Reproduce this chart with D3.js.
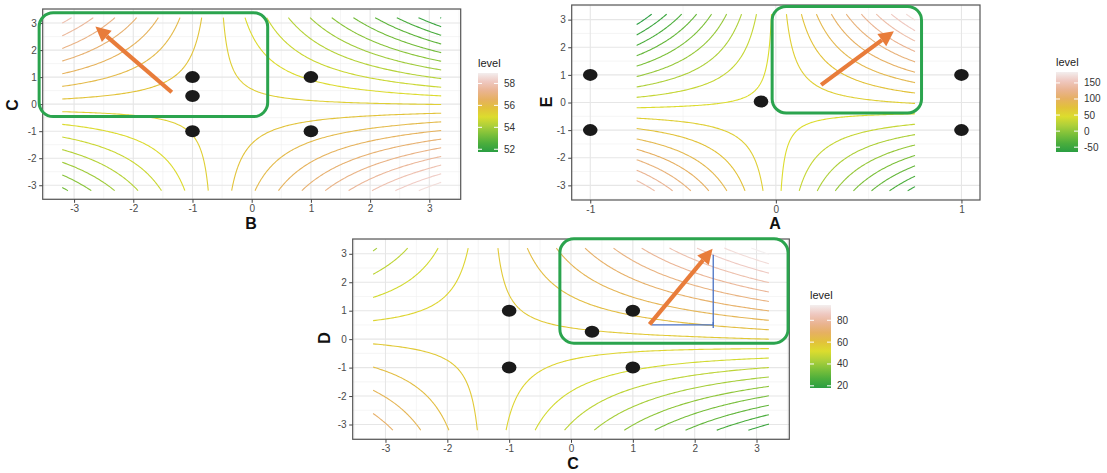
<!DOCTYPE html>
<html lang="en">
<head>
<meta charset="UTF-8">
<title>Response surface contours</title>
<script src="https://d3js.org/d3.v7.min.js"></script>
<style>
  body { margin: 0; background: #fff; }
  text { font-family: "Liberation Sans", Arial, sans-serif; }
</style>
</head>
<body>
<svg id="chart" width="1107" height="473"></svg>
<script>
// DATA =======================================================================================
// fitted surface coefficients: level = b0 + bX*x + bY*y + bXY*x*y + bXX*x^2 + bYY*y^2
const bcCoef = [55.449, -0.036, -0.178, -0.296, 0, 0];
const aeCoef = [49.7, 14.7, 0, 49, 0, 0];
const cdCoef = [56.58, 0.13, 3.58, 2.65, 0.1, 0];

// contour levels
const bcLevels = [51.75, 52.11, 52.47, 52.83, 53.19, 53.55, 53.91, 54.27, 54.63, 54.99, 55.35,
                  55.71, 56.07, 56.43, 56.79, 57.15, 57.51, 57.87, 58.23, 58.59, 58.95];
const aeLevels = [-65, -51.2, -37.3, -23.5, -9.7, 4.2, 18, 31.8, 45.7, 59.5, 73.3, 87.2, 101,
                  114.8, 128.7, 142.5, 156.3, 170.2, 184];
const cdLevels = [18, 22, 26, 30, 34, 38, 42, 46, 50, 54, 58, 62, 66, 70, 74, 78, 82, 86, 90, 94];

// design points
const bcPointsX = [-1, -1, -1, 1, 1];
const bcPointsY = [1, 0.3, -1, 1, -1];
const aePointsX = [-1, -1, 1, 1, -0.08];
const aePointsY = [1, -1, 1, -1, 0.04];
const cdPointsX = [-1, -1, 1, 1, 0.34];
const cdPointsY = [1, -1, 1, -1, 0.26];

// axis ticks and legend ticks
const ticks3 = [-3, -2, -1, 0, 1, 2, 3];
const minor3 = [-3.5, -2.5, -1.5, -0.5, 0.5, 1.5, 2.5, 3.5];
const ticksA = [-1, 0, 1];
const minorA = [-0.5, 0.5];
const bcLegendTicks = [52, 54, 56, 58];
const aeLegendTicks = [-50, 0, 50, 100, 150];
const cdLegendTicks = [20, 40, 60, 80];

// annotations (data units): box [x1, x2, y1, y2], arrow [xFrom, yFrom, xTo, yTo]
const bcBox = [-3.59, 0.27, -0.46, 3.38];
const bcArrow = [-1.35, 0.44, -2.64, 2.87];
const aeBox = [-0.02, 0.785, -0.38, 3.48];
const aeArrow = [0.244, 0.64, 0.636, 2.58];
const cdBox = [-0.18, 3.51, -0.14, 3.53];
const cdArrow = [1.27, 0.52, 2.29, 3.18];
const cdGuideX = [1.30, 2.30, 2.30];
const cdGuideY = [0.50, 0.50, 2.97];

// terrain-like palette, a little muted like the printed figure
const terrain = ["#2a9e42", "#4cae3c", "#7cc03a", "#aed03a", "#dcdc2e",
                 "#e2c23a", "#e6b062", "#eab492", "#efc8c0", "#f3eeee"];

// PANELS =====================================================================================
const svg = d3.select("#chart");

const panels = [
  { coef: bcCoef, levels: bcLevels, px: bcPointsX, py: bcPointsY,
    box: [42.7, 460.7, 9, 199.3], xLim: [-3.53, 3.53], yLim: [-3.52, 3.52],
    xData: [-3.2, 3.2], yData: [-3.2, 3.2],
    xTicks: ticks3, xMinor: minor3, yTicks: ticks3, yMinor: minor3,
    xTitle: "B", yTitle: "C", xTitlePos: [251, 223], yTitlePos: [12, 105],
    legend: { x: 478, top: 73, bottom: 152, w: 20, ticks: bcLegendTicks },
    annBox: bcBox, arrow: bcArrow },
  { coef: aeCoef, levels: aeLevels, px: aePointsX, py: aePointsY,
    box: [571.7, 980, 5, 200], xLim: [-1.1, 1.1], yLim: [-3.53, 3.53],
    xData: [-0.75, 0.75], yData: [-3.2, 3.2],
    xTicks: ticksA, xMinor: minorA, yTicks: ticks3, yMinor: minor3,
    xTitle: "A", yTitle: "E", xTitlePos: [775, 223], yTitlePos: [546, 102],
    legend: { x: 1056, top: 72, bottom: 152, w: 22, ticks: aeLegendTicks },
    annBox: aeBox, arrow: aeArrow },
  { coef: cdCoef, levels: cdLevels, px: cdPointsX, py: cdPointsY,
    box: [352.7, 789.3, 239, 439.3], xLim: [-3.53, 3.53], yLim: [-3.52, 3.52],
    xData: [-3.2, 3.2], yData: [-3.2, 3.2],
    xTicks: ticks3, xMinor: minor3, yTicks: ticks3, yMinor: minor3,
    xTitle: "C", yTitle: "D", xTitlePos: [573, 463], yTitlePos: [324, 338],
    legend: { x: 810, top: 305, bottom: 388, w: 21, ticks: cdLegendTicks },
    annBox: cdBox, arrow: cdArrow, guide: true }
];

// turn closed d3.contours rings into open lines (drop the parts on the grid edge)
function openLines(geom, nx, ny) {
  const out = [];
  const onEdge = p => p[0] <= 0 || p[0] >= nx || p[1] <= 0 || p[1] >= ny;
  geom.coordinates.forEach(poly => poly.forEach(ring => {
    let pts = ring.slice(0, -1);
    const k = pts.findIndex(onEdge);
    if (k < 0) { out.push(ring); return; }
    pts = pts.slice(k).concat(pts.slice(0, k), [pts[k]]);
    let cur = [];
    pts.forEach(p => {
      if (onEdge(p)) { if (cur.length > 1) out.push(cur); cur = []; }
      else cur.push(p);
    });
    if (cur.length > 1) out.push(cur);
  }));
  return out;
}

function drawPanel(p, idx) {
  const [L, R, T, B] = p.box;
  const x = d3.scaleLinear().domain(p.xLim).range([L, R]);
  const y = d3.scaleLinear().domain(p.yLim).range([B, T]);
  const g = svg.append("g");

  // grid
  g.append("g").selectAll("line").data(p.xMinor.filter(v => v > p.xLim[0] && v < p.xLim[1]))
    .join("line").attr("x1", x).attr("x2", x).attr("y1", T).attr("y2", B)
    .attr("stroke", "#eeeeee").attr("stroke-width", 0.6);
  g.append("g").selectAll("line").data(p.yMinor.filter(v => v > p.yLim[0] && v < p.yLim[1]))
    .join("line").attr("y1", y).attr("y2", y).attr("x1", L).attr("x2", R)
    .attr("stroke", "#eeeeee").attr("stroke-width", 0.6);
  g.append("g").selectAll("line").data(p.xTicks)
    .join("line").attr("x1", x).attr("x2", x).attr("y1", T).attr("y2", B)
    .attr("stroke", "#e6e6e6").attr("stroke-width", 1.1);
  g.append("g").selectAll("line").data(p.yTicks)
    .join("line").attr("y1", y).attr("y2", y).attr("x1", L).attr("x2", R)
    .attr("stroke", "#e6e6e6").attr("stroke-width", 1.1);

  // contours
  const lo = d3.min(p.levels), hi = d3.max(p.levels);
  const colour = d3.scaleLinear()
    .domain(terrain.map((c, i) => lo + i * (hi - lo) / (terrain.length - 1)))
    .range(terrain).interpolate(d3.interpolateLab);
  const nx = 161, ny = 161;
  const sx = (p.xData[1] - p.xData[0]) / (nx - 1), sy = (p.yData[1] - p.yData[0]) / (ny - 1);
  const c = p.coef;
  const values = new Array(nx * ny);
  for (let j = 0; j < ny; j++) {
    for (let i = 0; i < nx; i++) {
      const xv = p.xData[0] + i * sx, yv = p.yData[0] + j * sy;
      values[j * nx + i] = c[0] + c[1] * xv + c[2] * yv + c[3] * xv * yv + c[4] * xv * xv + c[5] * yv * yv;
    }
  }
  const toPx = q => [x(p.xData[0] + (q[0] - 0.5) * sx), y(p.yData[0] + (q[1] - 0.5) * sy)];
  const line = d3.line();
  const cg = g.append("g").attr("fill", "none").attr("stroke-width", 1.1);
  d3.contours().size([nx, ny]).thresholds(p.levels)(values).forEach(ct => {
    openLines(ct, nx, ny).forEach(pts => {
      cg.append("path").attr("d", line(pts.map(toPx))).attr("stroke", colour(ct.value));
    });
  });

  // design points
  g.append("g").selectAll("ellipse").data(d3.range(p.px.length)).join("ellipse")
    .attr("cx", i => x(p.px[i])).attr("cy", i => y(p.py[i]))
    .attr("rx", 7.3).attr("ry", 6).attr("fill", "#1a1a1a");

  // border
  g.append("rect").attr("x", L).attr("y", T).attr("width", R - L).attr("height", B - T)
    .attr("fill", "none").attr("stroke", "#555").attr("stroke-width", 1.2);

  // axes
  const ax = g.append("g").attr("transform", `translate(0,${B})`)
    .call(d3.axisBottom(x).tickValues(p.xTicks).tickSize(3.5).tickPadding(2).tickFormat(d => String(d)));
  const ay = g.append("g").attr("transform", `translate(${L},0)`)
    .call(d3.axisLeft(y).tickValues(p.yTicks).tickSize(3.5).tickPadding(2.5).tickFormat(d => String(d)));
  [ax, ay].forEach(a => {
    a.select(".domain").remove();
    a.selectAll(".tick line").attr("stroke", "#444");
    a.selectAll(".tick text").attr("fill", "#4a4a4a").style("font-size", "10px")
      .style("font-family", "Liberation Sans, Arial, sans-serif");
  });
  g.append("text").attr("x", p.xTitlePos[0]).attr("y", p.xTitlePos[1])
    .attr("text-anchor", "middle").attr("dominant-baseline", "central")
    .style("font-size", "16px").style("font-weight", "bold").attr("fill", "#111").text(p.xTitle);
  g.append("text").attr("transform", `translate(${p.yTitlePos[0]},${p.yTitlePos[1]}) rotate(-90)`)
    .attr("text-anchor", "middle").attr("dominant-baseline", "central")
    .style("font-size", "16px").style("font-weight", "bold").attr("fill", "#111").text(p.yTitle);

  // annotations
  const bx = p.annBox;
  g.append("rect").attr("x", x(bx[0])).attr("y", y(bx[3]))
    .attr("width", x(bx[1]) - x(bx[0])).attr("height", y(bx[2]) - y(bx[3]))
    .attr("rx", 14).attr("ry", 14).attr("fill", "none")
    .attr("stroke", "#2ba44e").attr("stroke-width", 3);
  if (p.guide) {
    g.append("path").attr("d", line(cdGuideX.map((v, i) => [x(v), y(cdGuideY[i])])))
      .attr("fill", "none").attr("stroke", "#4a72c4").attr("stroke-width", 1.3);
    g.append("line").attr("x1", x(cdGuideX[1])).attr("x2", x(cdGuideX[1]))
      .attr("y1", y(cdGuideY[1]) - 3).attr("y2", y(cdGuideY[1]) + 3)
      .attr("stroke", "#4a72c4").attr("stroke-width", 1.3);
  }
  const a = p.arrow;
  const x0 = x(a[0]), y0 = y(a[1]), x1 = x(a[2]), y1 = y(a[3]);
  const ang = Math.atan2(y1 - y0, x1 - x0), hl = 15, hw = 7.5;
  const bxp = x1 - hl * Math.cos(ang), byp = y1 - hl * Math.sin(ang);
  g.append("line").attr("x1", x0).attr("y1", y0).attr("x2", bxp).attr("y2", byp)
    .attr("stroke", "#e87c3a").attr("stroke-width", 4.2);
  g.append("path").attr("fill", "#e87c3a")
    .attr("d", `M${x1},${y1}L${bxp + hw * Math.sin(ang)},${byp - hw * Math.cos(ang)}` +
               `L${bxp - hw * Math.sin(ang)},${byp + hw * Math.cos(ang)}Z`);

  // legend
  const lg = p.legend;
  const ly = d3.scaleLinear().domain([lo, hi]).range([lg.bottom, lg.top]);
  const grad = svg.append("defs").append("linearGradient").attr("id", "grad" + idx)
    .attr("x1", 0).attr("y1", 1).attr("x2", 0).attr("y2", 0);
  terrain.forEach((col, i) => grad.append("stop")
    .attr("offset", i / (terrain.length - 1)).attr("stop-color", col));
  g.append("text").attr("x", lg.x).attr("y", lg.top - 6).style("font-size", "11px")
    .attr("fill", "#222").text("level");
  g.append("rect").attr("x", lg.x).attr("y", lg.top).attr("width", lg.w)
    .attr("height", lg.bottom - lg.top).attr("fill", `url(#grad${idx})`);
  lg.ticks.forEach(t => {
    g.append("line").attr("x1", lg.x).attr("x2", lg.x + 4).attr("y1", ly(t)).attr("y2", ly(t))
      .attr("stroke", "#fff").attr("stroke-width", 1);
    g.append("line").attr("x1", lg.x + lg.w - 4).attr("x2", lg.x + lg.w).attr("y1", ly(t)).attr("y2", ly(t))
      .attr("stroke", "#fff").attr("stroke-width", 1);
    g.append("text").attr("x", lg.x + lg.w + 6).attr("y", ly(t)).attr("dominant-baseline", "central")
      .style("font-size", "10px").attr("fill", "#333").text(String(t));
  });
}

panels.forEach(drawPanel);
</script>
</body>
</html>
